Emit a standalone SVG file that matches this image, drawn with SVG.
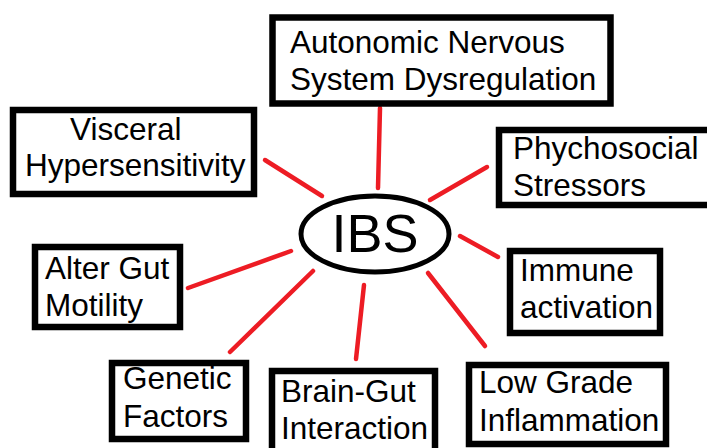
<svg xmlns="http://www.w3.org/2000/svg" width="707" height="448" viewBox="0 0 707 448">
<style>
.box{fill:#fff;stroke:#000;stroke-width:6.5}
.t{font-family:"Liberation Sans",Arial,sans-serif;font-size:31.5px;fill:#000}
.c{stroke:#ED1C24;stroke-width:4.5;stroke-linecap:round;fill:none}
</style>
<rect width="707" height="448" fill="#fff"/>
<g id="connectors">
<line class="c" x1="380" y1="108" x2="378" y2="188"/>
<line class="c" x1="265" y1="160" x2="322" y2="196"/>
<line class="c" x1="430" y1="200" x2="487" y2="167"/>
<line class="c" x1="460" y1="236" x2="498" y2="257"/>
<line class="c" x1="188" y1="288" x2="291" y2="251"/>
<line class="c" x1="313" y1="271" x2="230" y2="352"/>
<line class="c" x1="364" y1="285" x2="356" y2="359"/>
<line class="c" x1="428" y1="273" x2="485" y2="346"/>
</g>
<g id="ibs">
<ellipse cx="375" cy="234" rx="74" ry="38" fill="#fff" stroke="#000" stroke-width="5"/>
<text x="375" y="252" text-anchor="middle" font-family="Liberation Sans, Arial, sans-serif" font-size="54">IBS</text>
</g>
<g id="autonomic">
<rect class="box" x="272.5" y="17.5" width="338" height="86"/>
<text class="t" x="290" y="53">Autonomic Nervous</text>
<text class="t" x="290" y="90">System Dysregulation</text>
</g>
<g id="visceral">
<rect class="box" x="13" y="110" width="241" height="84"/>
<text class="t" x="70" y="140">Visceral</text>
<text class="t" x="25" y="176">Hypersensitivity</text>
</g>
<g id="psychosocial">
<rect class="box" x="499" y="130" width="220" height="75"/>
<text class="t" x="513" y="159">Phychosocial</text>
<text class="t" x="513" y="196">Stressors</text>
</g>
<g id="immune">
<rect class="box" x="510" y="251" width="150" height="82"/>
<text class="t" x="520" y="281">Immune</text>
<text class="t" x="520" y="318">activation</text>
</g>
<g id="altergut">
<rect class="box" x="35" y="247" width="145" height="80"/>
<text class="t" x="45" y="279">Alter Gut</text>
<text class="t" x="45" y="316">Motility</text>
</g>
<g id="genetic">
<rect class="box" x="112" y="363" width="134" height="76"/>
<text class="t" x="123" y="389">Genetic</text>
<text class="t" x="123" y="427">Factors</text>
</g>
<g id="braingut">
<rect class="box" x="272" y="371" width="163" height="100"/>
<text class="t" x="281" y="402">Brain-Gut</text>
<text class="t" x="281" y="439">Interaction</text>
</g>
<g id="lowgrade">
<rect class="box" x="469" y="365" width="197" height="79"/>
<text class="t" x="479" y="393">Low Grade</text>
<text class="t" x="479" y="431">Inflammation</text>
</g>
</svg>
